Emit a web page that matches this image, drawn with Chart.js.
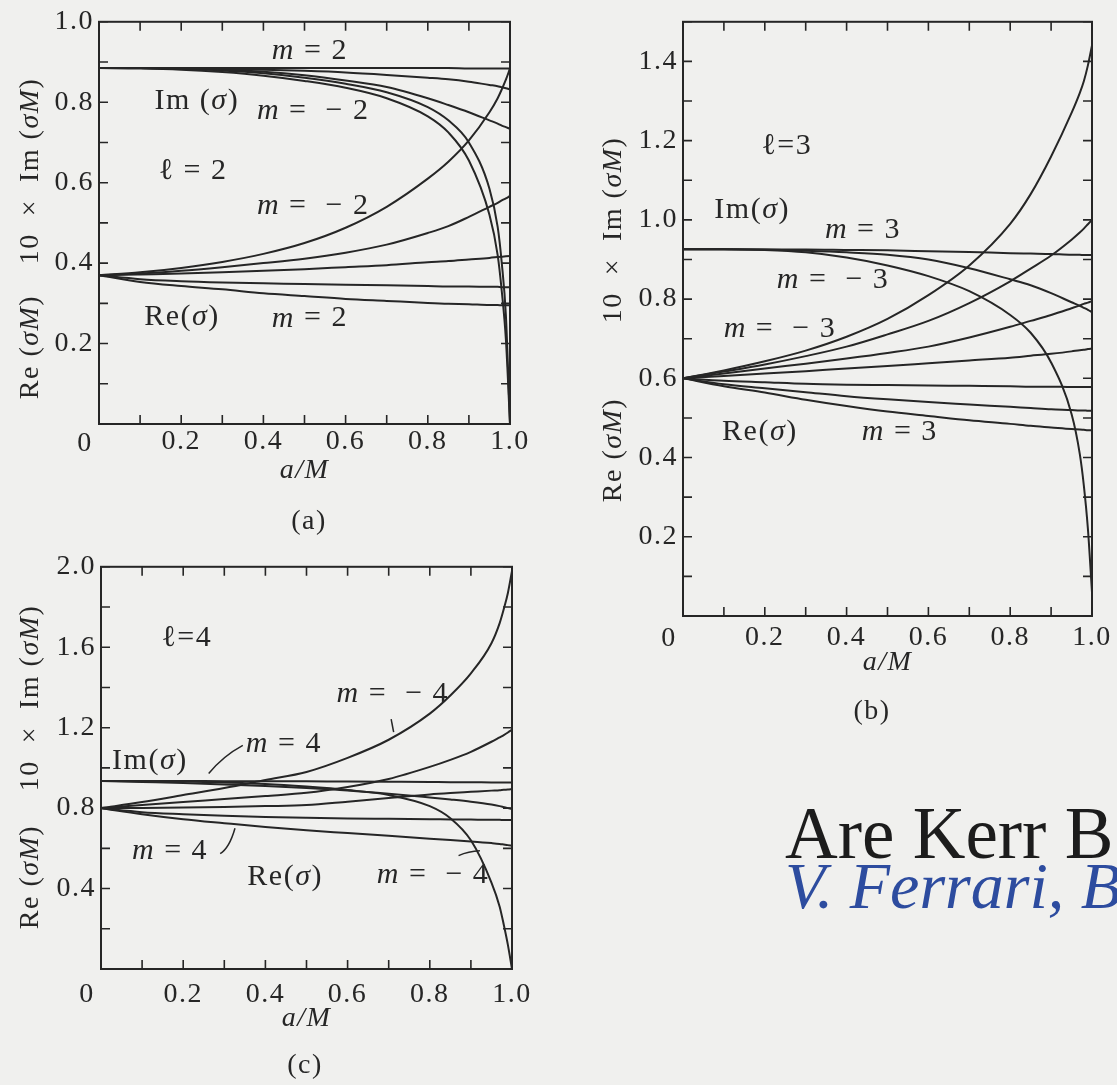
<!DOCTYPE html>
<html>
<head>
<meta charset="utf-8">
<title>Kerr quasinormal frequencies</title>
<script src="https://cdn.jsdelivr.net/npm/chart.js@4.4.1/dist/chart.umd.min.js"></script>
<style>
  html, body { margin: 0; padding: 0; }
  body {
    width: 1117px; height: 1085px; overflow: hidden; position: relative;
    background: #f0f0ee; font-family: "Liberation Serif", "Times New Roman", serif;
  }
  canvas { position: absolute; }
  #panelA { left: 0; top: 0; }
  #panelB { left: 560px; top: 0; }
  #panelC { left: 0; top: 545px; }
  .head { position: absolute; left: 785px; white-space: nowrap; }
  #talkTitle { top: 797px; font-size: 73px; line-height: 73px; color: #1c1c1c; }
  #talkAuthor { top: 853px; font-size: 66px; line-height: 66px; color: #2d4c9f; font-style: italic; }
</style>
</head>
<body>
<canvas id="panelA" data-panel="a" width="560" height="545"></canvas>
<canvas id="panelB" data-panel="b" width="557" height="740"></canvas>
<canvas id="panelC" data-panel="c" width="560" height="540"></canvas>
<div class="head" id="talkTitle">Are Kerr B</div>
<div class="head" id="talkAuthor">V. Ferrari, B</div>

<script>
// spin values a/M where every curve is sampled
const spinA = [0, 0.1, 0.2, 0.3, 0.4, 0.5, 0.6, 0.7, 0.8, 0.85, 0.9, 0.95, 0.97, 0.98, 0.99, 1.0];

// l = 2 : 10 x Im(sigma M)
const l2Im1 = [0.885,0.885,0.885,0.885,0.885,0.885,0.885,0.885,0.885,0.885,0.884,0.884,0.884,0.884,0.884,0.884];
const l2Im2 = [0.885,0.885,0.884,0.883,0.881,0.878,0.874,0.868,0.861,0.857,0.851,0.843,0.840,0.837,0.835,0.832];
const l2Im3 = [0.885,0.885,0.884,0.881,0.876,0.867,0.854,0.838,0.810,0.793,0.775,0.755,0.747,0.742,0.738,0.734];
const l2Im4 = [0.885,0.884,0.881,0.875,0.866,0.853,0.836,0.810,0.765,0.725,0.655,0.520,0.420,0.330,0.210,0.0];
const l2Im5 = [0.885,0.885,0.883,0.879,0.872,0.861,0.846,0.825,0.788,0.755,0.700,0.585,0.490,0.400,0.270,0.0];
// l = 2 : Re(sigma M)
const l2Re1 = [0.370,0.377,0.388,0.403,0.423,0.450,0.488,0.540,0.610,0.652,0.705,0.775,0.810,0.832,0.856,0.884];
const l2Re2 = [0.370,0.374,0.381,0.390,0.400,0.411,0.426,0.446,0.475,0.492,0.515,0.540,0.550,0.556,0.561,0.567];
const l2Re3 = [0.370,0.372,0.374,0.377,0.381,0.385,0.390,0.395,0.402,0.405,0.409,0.413,0.415,0.416,0.417,0.418];
const l2Re4 = [0.370,0.360,0.355,0.352,0.350,0.348,0.346,0.345,0.343,0.342,0.342,0.341,0.341,0.340,0.340,0.340];
const l2Re5 = [0.370,0.353,0.343,0.335,0.325,0.318,0.311,0.306,0.301,0.299,0.298,0.296,0.296,0.295,0.295,0.295];

// l = 3 : 10 x Im(sigma M)
const l3Im1 = [0.926,0.926,0.925,0.925,0.924,0.923,0.921,0.919,0.916,0.915,0.914,0.912,0.912,0.911,0.911,0.911];
const l3Im2 = [0.926,0.926,0.925,0.922,0.918,0.912,0.900,0.878,0.850,0.835,0.815,0.792,0.783,0.778,0.773,0.767];
const l3Im3 = [0.926,0.926,0.924,0.918,0.905,0.885,0.858,0.820,0.760,0.715,0.640,0.510,0.410,0.330,0.220,0.060];
// l = 3 : Re(sigma M)
const l3Re1 = [0.600,0.620,0.643,0.670,0.705,0.750,0.810,0.885,0.990,1.065,1.160,1.270,1.320,1.350,1.390,1.440];
const l3Re2 = [0.600,0.617,0.635,0.656,0.680,0.711,0.745,0.790,0.845,0.877,0.910,0.950,0.968,0.978,0.989,1.000];
const l3Re3 = [0.600,0.612,0.625,0.637,0.650,0.664,0.680,0.703,0.730,0.745,0.760,0.777,0.784,0.788,0.791,0.795];
const l3Re4 = [0.600,0.606,0.612,0.618,0.625,0.631,0.638,0.645,0.652,0.657,0.662,0.668,0.671,0.672,0.674,0.675];
const l3Re5 = [0.600,0.594,0.590,0.586,0.584,0.583,0.582,0.581,0.580,0.579,0.579,0.578,0.578,0.578,0.578,0.578];
const l3Re6 = [0.600,0.585,0.575,0.565,0.555,0.547,0.540,0.534,0.528,0.525,0.522,0.520,0.519,0.519,0.518,0.518];
const l3Re7 = [0.600,0.580,0.564,0.546,0.530,0.516,0.505,0.494,0.485,0.480,0.476,0.472,0.471,0.470,0.469,0.469];

// l = 4 : 10 x Im(sigma M)
const l4Im1 = [0.935,0.935,0.935,0.934,0.934,0.933,0.932,0.931,0.930,0.929,0.929,0.928,0.928,0.927,0.927,0.927];
const l4Im2 = [0.935,0.930,0.925,0.918,0.910,0.900,0.888,0.872,0.853,0.843,0.832,0.818,0.810,0.805,0.800,0.795];
const l4Im3 = [0.935,0.934,0.932,0.927,0.920,0.907,0.890,0.865,0.810,0.750,0.640,0.430,0.310,0.220,0.120,0.0];
// l = 4 : Re(sigma M)
const l4Re1 = [0.800,0.830,0.865,0.900,0.940,0.980,1.050,1.140,1.270,1.360,1.470,1.620,1.720,1.790,1.870,1.980];
const l4Re2 = [0.800,0.815,0.830,0.845,0.860,0.876,0.905,0.945,1.005,1.040,1.080,1.130,1.152,1.163,1.176,1.190];
const l4Re3 = [0.800,0.801,0.803,0.806,0.810,0.815,0.832,0.850,0.868,0.875,0.881,0.887,0.889,0.891,0.892,0.894];
const l4Re4 = [0.800,0.780,0.770,0.762,0.756,0.752,0.749,0.747,0.745,0.744,0.743,0.742,0.742,0.741,0.741,0.741];
const l4Re5 = [0.800,0.770,0.745,0.725,0.706,0.690,0.676,0.662,0.648,0.641,0.634,0.626,0.622,0.619,0.616,0.614];

// labelled tick values
const xLabelVals = [0.2, 0.4, 0.6, 0.8, 1.0];
const yLabelValsA = [0.2, 0.4, 0.6, 0.8, 1.0];
const yLabelValsB = [0.2, 0.4, 0.6, 0.8, 1.0, 1.2, 1.4];
const yLabelValsC = [0.4, 0.8, 1.2, 1.6, 2.0];

const INK = '#262626';
const FAMILY = '"Liberation Serif", "Times New Roman", serif';
const TICK = 9;

// the two halves of the vertical axis title
const titleRe = [['Re (', 0], ['σM', 1], [')', 0]];
const titleIm = [['10  ×  Im (', 0], ['σM', 1], [')', 0]];

// in-plot text: each part is [text, italic]
const extras = {
  a: {
    yTitleX: 31, reY: 347, imY: 171, zeroDy: 20, captionX: 309, captionY: 522, caption: '(a)',
    notes: [
      { a: 0.513, v: 0.926, parts: [['m', 1], [' = 2', 0]] },
      { a: 0.238, v: 0.802, parts: [['Im (', 0], ['σ', 1], [')', 0]] },
      { a: 0.521, v: 0.777, parts: [['m', 1], [' =  − 2', 0]] },
      { a: 0.229, v: 0.629, parts: [['ℓ', 0], [' = 2', 0]] },
      { a: 0.521, v: 0.542, parts: [['m', 1], [' =  − 2', 0]] },
      { a: 0.202, v: 0.265, parts: [['Re(', 0], ['σ', 1], [')', 0]] },
      { a: 0.513, v: 0.262, parts: [['m', 1], [' = 2', 0]] }
    ],
    pointers: []
  },
  b: {
    yTitleX: 54, reY: 450, imY: 230, zeroDy: 23, captionX: 312, captionY: 712, caption: '(b)',
    notes: [
      { a: 0.254, v: 1.186, parts: [['ℓ', 0], ['=3', 0]] },
      { a: 0.169, v: 1.025, parts: [['Im(', 0], ['σ', 1], [')', 0]] },
      { a: 0.440, v: 0.973, parts: [['m', 1], [' = 3', 0]] },
      { a: 0.367, v: 0.849, parts: [['m', 1], [' =  − 3', 0]] },
      { a: 0.237, v: 0.725, parts: [['m', 1], [' =  − 3', 0]] },
      { a: 0.188, v: 0.465, parts: [['Re(', 0], ['σ', 1], [')', 0]] },
      { a: 0.530, v: 0.465, parts: [['m', 1], [' = 3', 0]] }
    ],
    pointers: []
  },
  c: {
    yTitleX: 31, reY: 332, imY: 153, zeroDy: 26, captionX: 305, captionY: 521, caption: '(c)',
    notes: [
      { a: 0.209, v: 1.644, parts: [['ℓ', 0], ['=4', 0]] },
      { a: 0.119, v: 1.035, parts: [['Im(', 0], ['σ', 1], [')', 0]] },
      { a: 0.445, v: 1.119, parts: [['m', 1], [' = 4', 0]] },
      { a: 0.710, v: 1.366, parts: [['m', 1], [' =  − 4', 0]] },
      { a: 0.168, v: 0.584, parts: [['m', 1], [' = 4', 0]] },
      { a: 0.448, v: 0.455, parts: [['Re(', 0], ['σ', 1], [')', 0]] },
      { a: 0.808, v: 0.465, parts: [['m', 1], [' =  − 4', 0]] }
    ],
    pointers: [
      [[0.706, 1.243], [0.709, 1.210], [0.712, 1.178]],
      [[0.345, 1.112], [0.297, 1.059], [0.262, 0.972]],
      [[0.326, 0.700], [0.312, 0.600], [0.290, 0.574]],
      [[0.870, 0.564], [0.894, 0.586], [0.922, 0.588]]
    ]
  }
};

// draws mixed roman/italic runs centred on (x, y)
function richText(ctx, parts, x, y, size) {
  ctx.textAlign = 'left';
  ctx.textBaseline = 'middle';
  const fonts = parts.map(p => (p[1] ? 'italic ' : '') + size + 'px ' + FAMILY);
  const widths = parts.map((p, i) => { ctx.font = fonts[i]; return ctx.measureText(p[0]).width; });
  let cx = x - widths.reduce((s, w) => s + w, 0) / 2;
  parts.forEach((p, i) => { ctx.font = fonts[i]; ctx.fillText(p[0], cx, y); cx += widths[i]; });
}

const framePlugin = {
  id: 'frame',
  beforeDraw(chart) {
    // the printed face sets its figures a little wider than Liberation Serif
    chart.ctx.letterSpacing = '1.5px';
  },
  afterDraw(chart) {
    const { ctx, chartArea: ca } = chart;
    const sx = chart.scales.x, sy = chart.scales.y;
    const ex = extras[chart.canvas.dataset.panel];
    ctx.save();
    ctx.strokeStyle = INK;
    ctx.fillStyle = INK;

    // box and inward ticks on all four sides
    ctx.lineWidth = 2;
    ctx.strokeRect(ca.left, ca.top, ca.right - ca.left, ca.bottom - ca.top);
    ctx.lineWidth = 1.6;
    ctx.beginPath();
    sx.ticks.forEach(t => {
      const px = sx.getPixelForValue(t.value);
      ctx.moveTo(px, ca.bottom); ctx.lineTo(px, ca.bottom - TICK);
      ctx.moveTo(px, ca.top); ctx.lineTo(px, ca.top + TICK);
    });
    sy.ticks.forEach(t => {
      const py = sy.getPixelForValue(t.value);
      ctx.moveTo(ca.left, py); ctx.lineTo(ca.left + TICK, py);
      ctx.moveTo(ca.right, py); ctx.lineTo(ca.right - TICK, py);
    });
    ctx.stroke();

    // origin label sits left of the corner
    richText(ctx, [['0', 0]], sx.getPixelForValue(0) - 14, ca.bottom + ex.zeroDy, 28);

    // y axis title, rotated: Re part low, Im part high
    ctx.save();
    ctx.translate(ex.yTitleX, 0);
    ctx.rotate(-Math.PI / 2);
    richText(ctx, titleRe, -ex.reY, 0, 28);
    richText(ctx, titleIm, -ex.imY, 0, 28);
    ctx.restore();

    // in-plot labels
    ex.notes.forEach(n => {
      richText(ctx, n.parts, sx.getPixelForValue(n.a), sy.getPixelForValue(n.v), 30);
    });

    // small leader strokes
    ctx.lineWidth = 1.5;
    ex.pointers.forEach(p => {
      const pts = p.map(q => [sx.getPixelForValue(q[0]), sy.getPixelForValue(q[1])]);
      ctx.beginPath();
      ctx.moveTo(pts[0][0], pts[0][1]);
      ctx.quadraticCurveTo(pts[1][0], pts[1][1], pts[2][0], pts[2][1]);
      ctx.stroke();
    });

    // panel caption
    richText(ctx, [[ex.caption, 0]], ex.captionX, ex.captionY, 28);
    ctx.restore();
  }
};

function series(vals) {
  return {
    data: spinA.map((a, i) => ({ x: a, y: vals[i] })),
    borderColor: INK,
    borderWidth: 2,
    pointRadius: 0,
    fill: false,
    cubicInterpolationMode: 'monotone'
  };
}

function tickLabel(list) {
  return v => {
    const hit = list.find(t => Math.abs(t - v) < 1e-6);
    return hit === undefined ? '' : hit.toFixed(1);
  };
}

function makePanel(id, curves, cfg) {
  new Chart(document.getElementById(id), {
    type: 'line',
    data: { datasets: curves.map(series) },
    options: {
      responsive: false,
      animation: false,
      events: [],
      layout: { padding: { top: cfg.top, right: cfg.right, left: 0, bottom: 0 } },
      plugins: { legend: { display: false }, tooltip: { enabled: false } },
      scales: {
        x: {
          type: 'linear', min: 0, max: 1,
          grid: { display: false, drawTicks: false },
          border: { display: false },
          ticks: {
            stepSize: 0.1, autoSkip: false, maxRotation: 0,
            padding: cfg.xPad, color: INK,
            font: { family: FAMILY, size: 28 },
            callback: tickLabel(xLabelVals)
          },
          title: {
            display: true, text: 'a/M', color: INK,
            font: { family: FAMILY, size: 28, style: 'italic' },
            padding: { top: 0, bottom: cfg.titlePad }
          },
          afterFit: s => { s.height = cfg.xHeight; }
        },
        y: {
          type: 'linear', min: 0, max: cfg.yMax,
          grid: { display: false, drawTicks: false },
          border: { display: false },
          ticks: {
            stepSize: cfg.yStep, autoSkip: false,
            padding: 5, color: INK,
            font: { family: FAMILY, size: 28 },
            callback: tickLabel(cfg.yLabels)
          },
          afterFit: s => { s.width = cfg.yWidth; }
        }
      }
    },
    plugins: [framePlugin]
  });
}

makePanel('panelA',
  [l2Im1, l2Im2, l2Im3, l2Im4, l2Im5, l2Re1, l2Re2, l2Re3, l2Re4, l2Re5],
  { top: 20, right: 50, yWidth: 99, xHeight: 121, xPad: 1, titlePad: 58, yMax: 1, yStep: 0.1, yLabels: yLabelValsA });

makePanel('panelB',
  [l3Im1, l3Im2, l3Im3, l3Re1, l3Re2, l3Re3, l3Re4, l3Re5, l3Re6, l3Re7],
  { top: 10, right: 25, yWidth: 123, xHeight: 124, xPad: 5, titlePad: 61, yMax: 1.5, yStep: 0.1, yLabels: yLabelValsB });

makePanel('panelC',
  [l4Im1, l4Im2, l4Im3, l4Re1, l4Re2, l4Re3, l4Re4, l4Re5],
  { top: 20, right: 48, yWidth: 101, xHeight: 116, xPad: 9, titlePad: 50, yMax: 2, yStep: 0.2, yLabels: yLabelValsC });
</script>
</body>
</html>
